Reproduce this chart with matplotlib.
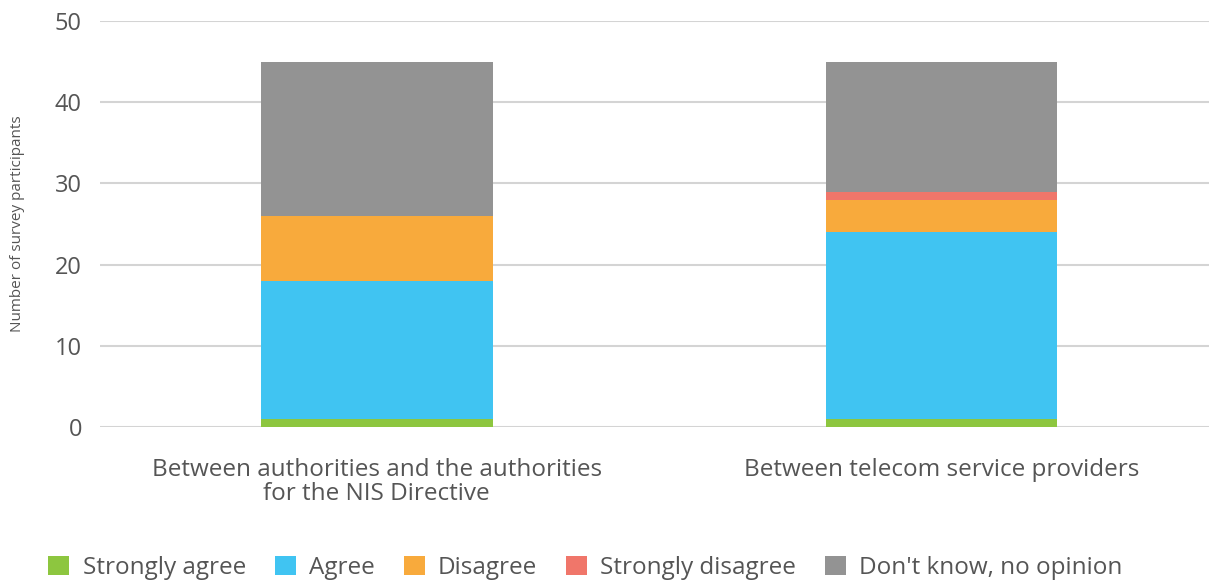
import matplotlib
matplotlib.use("Agg")
import matplotlib.pyplot as plt
import numpy as np

categories = ["Between authorities and the authorities\nfor the NIS Directive",
              "Between telecom service providers"]
series_names = ["Strongly agree", "Agree", "Disagree", "Strongly disagree", "Don't know, no opinion"]
strongly_agree = [1, 1]
agree = [17, 23]
disagree = [8, 4]
strongly_disagree = [0, 1]
dont_know = [19, 16]
yticks = [0, 10, 20, 30, 40, 50]

colors = ["#8DC63F", "#40C4F2", "#F8AA3C", "#F0766A", "#939393"]

plt.rcParams['font.family'] = ['Open Sans', 'DejaVu Sans']

fig = plt.figure(figsize=(12.09, 5.80), dpi=100)
ax = fig.add_axes([0.0827, 0.2638, 0.917, 0.70])

x = np.arange(len(categories))
bottom = np.zeros(len(categories))
for name, vals, c in zip(series_names, [strongly_agree, agree, disagree, strongly_disagree, dont_know], colors):
    ax.bar(x, vals, bottom=bottom, width=0.41, color=c, label=name, zorder=3)
    bottom += np.array(vals)

ax.set_ylim(0, 50)
ax.set_xlim(-0.49, 1.473)
ax.set_yticks(yticks)
ax.yaxis.grid(True, color="#d4d4d4", linewidth=1.5, zorder=0)
ax.set_axisbelow(True)
for s in ax.spines.values():
    s.set_visible(False)
ax.tick_params(axis='y', length=0, pad=13, labelsize=17, labelcolor="#555555")
ax.tick_params(axis='x', length=0, pad=22, labelsize=17.5, labelcolor="#555555")
ax.set_xticks(x)
ax.set_xticklabels(categories, linespacing=1.0)
ax.set_ylabel("Number of survey participants", fontsize=11, color="#555555")
ax.yaxis.set_label_coords(-0.068, 0.5)

handles, labels = ax.get_legend_handles_labels()
fig.legend(handles, labels, loc="lower left", bbox_to_anchor=(0.022, -0.038), ncol=5,
           frameon=False, fontsize=17.5, handlelength=0.85, handleheight=0.85,
           handletextpad=0.55, columnspacing=1.2, labelcolor="#555555")

fig.savefig("out.png", dpi=100)
